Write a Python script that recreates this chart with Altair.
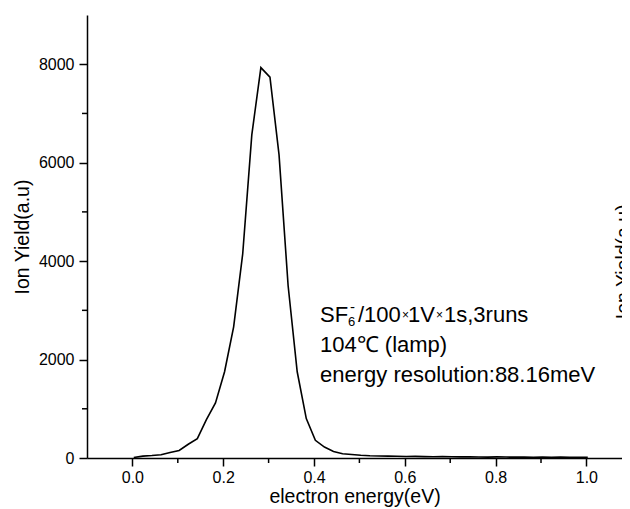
import altair as alt
import pandas as pd

# ---- data ----
energy = [0.003, 0.023, 0.043, 0.063, 0.083, 0.103, 0.123, 0.143, 0.163, 0.183,
          0.203, 0.223, 0.243, 0.263, 0.283, 0.303, 0.323, 0.343, 0.363, 0.383,
          0.403, 0.423, 0.443, 0.463, 0.483, 0.503, 0.523, 0.543, 0.563, 0.583,
          0.603, 0.623, 0.643, 0.663, 0.683, 0.703, 0.723, 0.743, 0.763, 0.783,
          0.803, 0.823, 0.843, 0.863, 0.883, 0.903, 0.923, 0.943, 0.963, 0.983,
          1.003]
ion_yield = [10, 38, 50, 67, 110, 154, 280, 392, 778, 1120,
             1752, 2665, 4150, 6565, 7931, 7736, 6158, 3500, 1752, 800,
             360, 223, 134, 87, 71, 55, 45, 40, 38, 35,
             30, 32, 28, 25, 27, 24, 22, 25, 20, 18,
             22, 19, 17, 20, 16, 18, 15, 17, 14, 16, 15]

x_major = [0.0, 0.2, 0.4, 0.6, 0.8, 1.0]
x_minor = [0.1, 0.3, 0.5, 0.7, 0.9]
y_major = [0, 2000, 4000, 6000, 8000]
y_minor = [1000, 3000, 5000, 7000]

ann_text = ["SF", "6", "-", "/100", "×", "1V", "×", "1s,3runs",
            "104℃ (lamp)", "energy resolution:88.16meV"]
ann_x = [0.4132, 0.4749, 0.4793, 0.4969, 0.5938, 0.6071, 0.6687, 0.6863,
         0.4132, 0.4132]
ann_y = [2769, 2682, 2966, 2769, 2824, 2769, 2824, 2769, 2160, 1550]
ann_fs = [22, 13, 15, 22, 12, 22, 12, 22, 22, 22]

df = pd.DataFrame({"e": energy, "v": ion_yield})
ann = pd.DataFrame({"t": ann_text, "e": ann_x, "v": ann_y, "fs": ann_fs})
rt = pd.DataFrame({"t": ["Ion Yield(a.u)"], "e": [1.063], "v": [3986]})
xm = pd.DataFrame({"e": x_minor})
ym = pd.DataFrame({"v": y_minor})

FONT = "Liberation Sans"
H = 443
TICK = "black"
xs = alt.Scale(domain=[-0.1, 1.0784], nice=False, zero=False)
ys = alt.Scale(domain=[0, 9000], nice=False, zero=False)

line = alt.Chart(df).mark_line(color="black", strokeWidth=1.6).encode(
    x=alt.X("e:Q", scale=xs, axis=alt.Axis(
        values=x_major, format=".1f", tickSize=8, ticks=True,
        tickWidth=1.5, tickColor=TICK,
        domainColor="black", domainWidth=1.5,
        labelFont=FONT, labelFontSize=16, labelColor="black", labelPadding=3,
        title="electron energy(eV)", titleFont=FONT, titleFontSize=19.5,
        titleFontWeight="normal", titleColor="black", titlePadding=2,
        grid=False)),
    y=alt.Y("v:Q", scale=ys, axis=alt.Axis(
        values=y_major, format="d", tickSize=8, ticks=True,
        tickWidth=1.5, tickColor=TICK,
        domainColor="black", domainWidth=1.5,
        labelFont=FONT, labelFontSize=16, labelColor="black", labelPadding=5,
        title="Ion Yield(a.u)", titleFont=FONT, titleFontSize=19.5,
        titleFontWeight="normal", titleColor="black", titlePadding=6,
        grid=False)),
)

# minor ticks (outside the plot, below / left of the axis lines)
x_minor_ticks = alt.Chart(xm).mark_rule(color=TICK, strokeWidth=1.5).encode(
    x=alt.X("e:Q", scale=xs),
    y=alt.value(H),
    y2=alt.value(H + 5),
)
y_minor_ticks = alt.Chart(ym).mark_rule(color=TICK, strokeWidth=1.5).encode(
    y=alt.Y("v:Q", scale=ys),
    x=alt.value(0),
    x2=alt.value(-5),
)

annot = alt.Chart(ann).mark_text(
    align="left", baseline="alphabetic", font=FONT, color="black"
).encode(
    x=alt.X("e:Q", scale=xs),
    y=alt.Y("v:Q", scale=ys),
    text="t:N",
    size=alt.Size("fs:Q", scale=None),
)

right_title = alt.Chart(rt).mark_text(
    align="center", baseline="top", angle=270, font=FONT, fontSize=19.5,
    color="black"
).encode(
    x=alt.X("e:Q", scale=xs),
    y=alt.Y("v:Q", scale=ys),
    text="t:N",
)

chart = alt.layer(line, x_minor_ticks, y_minor_ticks, annot, right_title).properties(
    width=535, height=H,
    autosize=alt.AutoSizeParams(type="none"),
    padding={"left": 79, "top": 7, "right": 0, "bottom": 51},
    background="white",
).configure_view(stroke=None)

chart.save("out.html", embed_options={"renderer": "svg", "actions": False})
